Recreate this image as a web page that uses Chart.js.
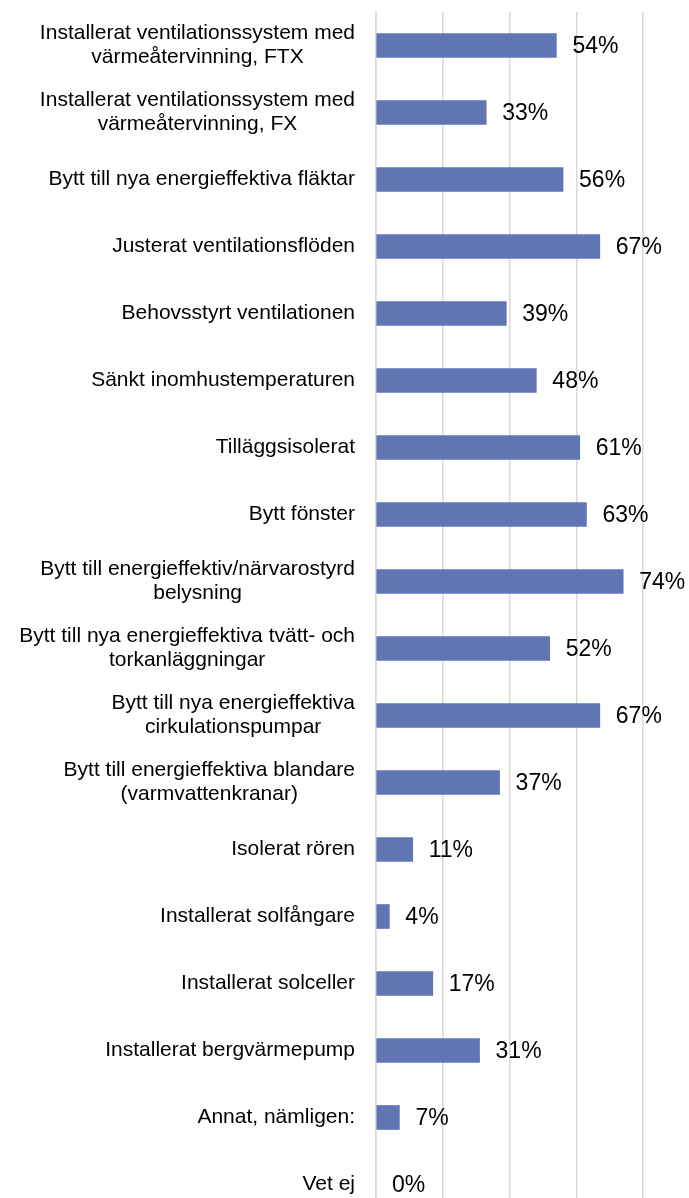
<!DOCTYPE html>
<html>
<head>
<meta charset="utf-8">
<script src="https://cdn.jsdelivr.net/npm/chart.js@4/dist/chart.umd.min.js"></script>
<style>
  html, body { margin: 0; padding: 0; background: #fff; overflow: hidden; }
  #wrap { width: 689px; height: 1218px; position: relative; }
</style>
</head>
<body>
<div id="wrap"><canvas id="chart"></canvas></div>
<script>
// categories (multi-line labels as arrays)
const categories = [
  ["Installerat ventilationssystem med", "värmeåtervinning, FTX"],
  ["Installerat ventilationssystem med", "värmeåtervinning, FX"],
  "Bytt till nya energieffektiva fläktar",
  "Justerat ventilationsflöden",
  "Behovsstyrt ventilationen",
  "Sänkt inomhustemperaturen",
  "Tilläggsisolerat",
  "Bytt fönster",
  ["Bytt till energieffektiv/närvarostyrd", "belysning"],
  ["Bytt till nya energieffektiva tvätt- och", "torkanläggningar"],
  ["Bytt till nya energieffektiva", "cirkulationspumpar"],
  ["Bytt till energieffektiva blandare", "(varmvattenkranar)"],
  "Isolerat rören",
  "Installerat solfångare",
  "Installerat solceller",
  "Installerat bergvärmepump",
  "Annat, nämligen:",
  "Vet ej"
];

// share of respondents, percent
const shares = [54, 33, 56, 67, 39, 48, 61, 63, 74, 52, 67, 37, 11, 4, 17, 31, 7, 0];

const gridStep = 20;
const axisMax = 93.7;

const FONT = "'Liberation Sans', Arial, sans-serif";
const BAR = "#6075b4";
const GRID = "#d9d9d9";

// category labels: block right-aligned, lines centred inside the block
const categoryLabels = {
  id: "categoryLabels",
  afterDraw(chart) {
    const { ctx } = chart;
    const yScale = chart.scales.y;
    const right = 355;
    const lineH = 24;
    ctx.save();
    ctx.font = "21px " + FONT;
    ctx.fillStyle = "#000";
    ctx.textAlign = "center";
    ctx.textBaseline = "middle";
    categories.forEach((lab, i) => {
      const lines = Array.isArray(lab) ? lab : [lab];
      const widest = Math.max(...lines.map(l => ctx.measureText(l).width));
      const cx = right - widest / 2;
      const y0 = yScale.getPixelForTick(i) - (lines.length - 1) * lineH / 2;
      lines.forEach((l, k) => ctx.fillText(l, cx, y0 + k * lineH));
    });
    ctx.restore();
  }
};

const valueLabels = {
  id: "valueLabels",
  afterDatasetsDraw(chart) {
    const { ctx } = chart;
    const meta = chart.getDatasetMeta(0);
    ctx.save();
    ctx.font = "23px " + FONT;
    ctx.fillStyle = "#000";
    ctx.textAlign = "left";
    ctx.textBaseline = "middle";
    meta.data.forEach((bar, i) => {
      ctx.fillText(shares[i] + "%", bar.x + 16, bar.y + 1);
    });
    ctx.restore();
  }
};

new Chart(document.getElementById("chart"), {
  type: "bar",
  data: {
    labels: categories,
    datasets: [{
      data: shares,
      backgroundColor: (c) => (c.raw === 0 ? "rgba(0,0,0,0)" : BAR),
      borderWidth: 0,
      barThickness: 24,
    }],
  },
  options: {
    indexAxis: "y",
    responsive: true,
    maintainAspectRatio: false,
    animation: false,
    layout: { padding: { top: 12, right: 0, bottom: 0, left: 0 } },
    plugins: {
      legend: { display: false },
      tooltip: { enabled: false },
    },
    scales: {
      x: {
        min: 0,
        max: axisMax,
        ticks: { display: false, stepSize: gridStep },
        afterBuildTicks: (s) => { s.ticks = s.ticks.filter(t => t.value % gridStep === 0); },
        afterFit: (s) => { s.height = 0; },
        grid: { color: GRID, lineWidth: 1.5, drawTicks: false },
        border: { display: false },
      },
      y: {
        ticks: { display: false },
        grid: { display: false },
        border: { display: true, color: GRID, width: 1.5 },
        afterFit: (s) => { s.width = 376; },
      },
    },
  },
  plugins: [categoryLabels, valueLabels],
});
</script>
</body>
</html>
